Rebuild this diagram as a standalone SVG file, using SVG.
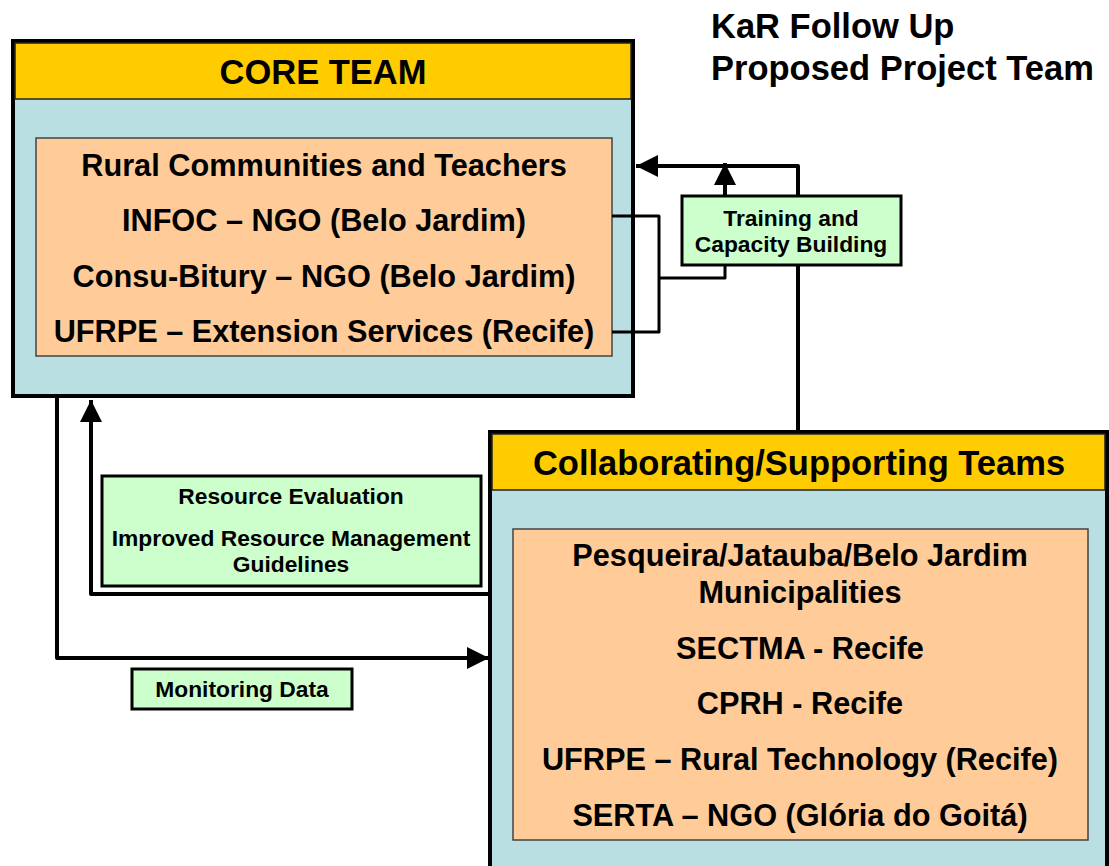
<svg xmlns="http://www.w3.org/2000/svg" width="1109" height="866" viewBox="0 0 1109 866">
  <style>
    text { font-family: "Liberation Sans", Arial, sans-serif; font-weight: bold; fill: #000; text-anchor: middle; }
    .title { font-size: 34.5px; text-anchor: start; }
    .head { font-size: 34.5px; }
    .item { font-size: 30.7px; }
    .lbl { font-size: 22.8px; }
    .outer { fill: #B9DFE2; stroke: #000; stroke-width: 4; }
    .band { fill: #FFCC00; stroke: #222; stroke-width: 1.5; }
    .inner { fill: #FFCC99; stroke: #444; stroke-width: 1.5; }
    .note { fill: #CCFFCC; stroke: #000; stroke-width: 3; }
    .wire { fill: none; stroke: #000; stroke-width: 4; stroke-linejoin: round; }
    .thin { fill: none; stroke: #000; stroke-width: 3; stroke-linejoin: round; }
  </style>
  <defs>
    <marker id="arrow" viewBox="0 0 10 10" refX="10" refY="5" markerWidth="5.5" markerHeight="5.5" markerUnits="strokeWidth" orient="auto">
      <path d="M0,0 L10,5 L0,10 Z" fill="#000"/>
    </marker>
  </defs>

  <rect width="1109" height="866" fill="#fff"/>

  <!-- heading -->
  <g id="title">
    <text class="title" x="711" y="38">KaR Follow Up</text>
    <text class="title" x="711" y="80">Proposed Project Team</text>
  </g>

  <!-- core team -->
  <g id="core-team">
    <rect class="outer" x="13" y="41" width="620" height="355"/>
    <rect class="band" x="15" y="43" width="616" height="56"/>
    <text class="head" x="323" y="84">CORE TEAM</text>
    <rect class="inner" x="36" y="138" width="576" height="218"/>
    <text class="item" x="324" y="176">Rural Communities and Teachers</text>
    <text class="item" x="324" y="231">INFOC – NGO (Belo Jardim)</text>
    <text class="item" x="324" y="287">Consu-Bitury – NGO (Belo Jardim)</text>
    <text class="item" x="324" y="342">UFRPE – Extension Services (Recife)</text>
  </g>

  <!-- collaborating / supporting teams -->
  <g id="collab-teams">
    <rect class="outer" x="490" y="432" width="617" height="450"/>
    <rect class="band" x="492" y="434" width="613" height="56"/>
    <text class="head" x="799" y="475">Collaborating/Supporting Teams</text>
    <rect class="inner" x="513" y="529" width="575" height="311"/>
    <text class="item" x="800" y="566">Pesqueira/Jatauba/Belo Jardim</text>
    <text class="item" x="800" y="603">Municipalities</text>
    <text class="item" x="800" y="659">SECTMA - Recife</text>
    <text class="item" x="800" y="714">CPRH - Recife</text>
    <text class="item" x="800" y="770">UFRPE – Rural Technology (Recife)</text>
    <text class="item" x="800" y="826">SERTA – NGO (Glória do Goitá)</text>
  </g>

  <!-- connectors (label boxes are drawn afterwards and sit on top) -->
  <g id="connectors">
    <!-- bracket joining the core partners to the training path -->
    <path class="thin" d="M612,216 H659 V332 H612"/>
    <path class="thin" d="M659,278 H725 V265"/>
    <path class="wire" d="M725,196 V163" marker-end="url(#arrow)"/>
    <!-- collaborating teams up to the core team -->
    <path class="wire" d="M798,431 V166 H636" marker-end="url(#arrow)"/>
    <!-- monitoring data: core team to collaborating teams -->
    <path class="wire" d="M57,398 V658 H489" marker-end="url(#arrow)"/>
    <!-- resource evaluation: collaborating teams back to core team -->
    <path class="wire" d="M489,594 H91 V400" marker-end="url(#arrow)"/>
  </g>

  <!-- flow labels -->
  <g id="training">
    <rect class="note" x="682" y="196" width="219" height="69"/>
    <text class="lbl" x="791" y="226">Training and</text>
    <text class="lbl" x="791" y="252">Capacity Building</text>
  </g>

  <g id="resource-evaluation">
    <rect class="note" x="102" y="476" width="379" height="110"/>
    <text class="lbl" x="291" y="504">Resource Evaluation</text>
    <text class="lbl" x="291" y="546">Improved Resource Management</text>
    <text class="lbl" x="291" y="572">Guidelines</text>
  </g>

  <g id="monitoring-data">
    <rect class="note" x="132" y="669" width="220" height="40"/>
    <text class="lbl" x="242" y="697">Monitoring Data</text>
  </g>
</svg>
